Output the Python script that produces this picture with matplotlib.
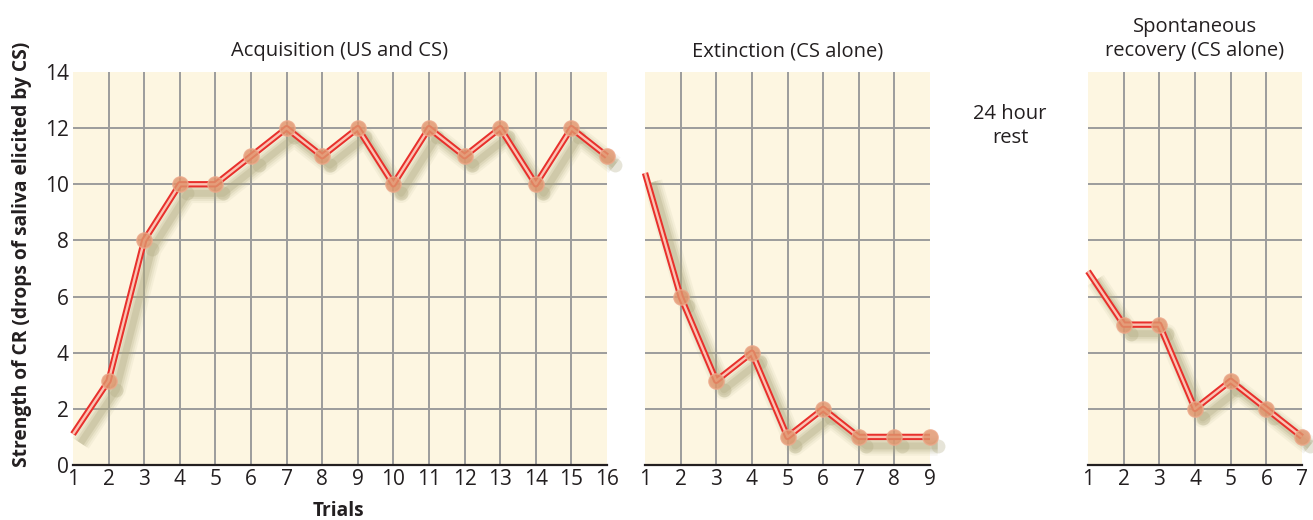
import matplotlib
matplotlib.use("Agg")
import matplotlib.pyplot as plt
from matplotlib.transforms import offset_copy

plt.rcParams["font.family"] = ["Open Sans", "DejaVu Sans"]

# CR strength per trial for each phase
acq_trials = list(range(1, 17))
acq_cr = [1.1, 3, 8, 10, 10, 11, 12, 11, 12, 10, 12, 11, 12, 10, 12, 11]
ext_trials = list(range(1, 10))
ext_cr = [10.4, 6, 3, 4, 1, 2, 1, 1, 1]
rec_trials = list(range(1, 8))
rec_cr = [6.9, 5, 5, 2, 3, 2, 1]

titles = ["Acquisition (US and CS)", "Extinction (CS alone)",
          "Spontaneous\nrecovery (CS alone)"]
y_ticks = [0, 2, 4, 6, 8, 10, 12, 14]

BG = "#fdf6e1"
GRID = "#9c9c9c"
RED = "#e8302c"
HILITE = "#fbc4b4"
SHADOW = "#aea880"
BALL = "#e0946c"
INK = "#231f20"

W, H = 1313, 520
fig = plt.figure(figsize=(W / 100, H / 100), dpi=100)

# axes boxes in pixels: left, right
boxes = [(73, 607), (645, 930), (1088, 1302)]
y0, y1 = 465, 72


def draw_phase(ax, xs, ys):
    ax.set_facecolor(BG)
    ax.set_xlim(xs[0], xs[-1])
    ax.set_ylim(0, 14)
    for x in xs[1:-1]:
        ax.axvline(x, color=GRID, lw=1.4, zorder=1)
    for y in y_ticks[1:-1]:
        ax.axhline(y, color=GRID, lw=1.4, zorder=1)

    # soft drop shadow under the trace
    tr = offset_copy(ax.transData, fig=fig, x=5.5, y=-6.5, units="points")
    for lw, a in [(14, 0.1), (11, 0.14), (8, 0.2), (5, 0.3)]:
        ax.plot(xs, ys, color=SHADOW, lw=lw, alpha=a, transform=tr,
                solid_capstyle="butt", solid_joinstyle="round", zorder=2,
                clip_on=False)
    ax.plot(xs[1:], ys[1:], "o", ms=10, color=SHADOW, alpha=0.3,
            mec="none", transform=tr, zorder=2, clip_on=False)

    ax.plot(xs, ys, color=RED, lw=4.6, solid_capstyle="butt",
            solid_joinstyle="round", zorder=3, clip_on=False)
    ax.plot(xs, ys, color=HILITE, lw=1.7, solid_capstyle="butt",
            solid_joinstyle="round", zorder=4, clip_on=False)
    ax.plot(xs[1:], ys[1:], "o", ms=11, mfc=BALL, mec="#eca88a", mew=1.0,
            alpha=0.82, zorder=5, clip_on=False)

    ax.set_xticks(xs)
    ax.set_xticklabels([str(x) for x in xs], fontsize=15, color=INK)
    ax.set_yticks(y_ticks)
    ax.tick_params(length=0, pad=3)
    for s in ["top", "right", "left"]:
        ax.spines[s].set_visible(False)
    ax.spines["bottom"].set_linewidth(1.6)
    ax.spines["bottom"].set_color(INK)
    ax.spines["bottom"].set_zorder(6)


axes = []
for (l, r), xs, ys in zip(boxes, [acq_trials, ext_trials, rec_trials],
                          [acq_cr, ext_cr, rec_cr]):
    ax = fig.add_axes([l / W, (H - y0) / H, (r - l) / W, (y0 - y1) / H])
    draw_phase(ax, xs, ys)
    axes.append(ax)

axes[0].set_yticklabels([str(v) for v in y_ticks], fontsize=15, color=INK)
axes[1].set_yticklabels([])
axes[2].set_yticklabels([])

for (l, r), t in zip(boxes, titles):
    fig.text((l + r) / 2 / W, 1 - 56 / H, t, ha="center", va="baseline",
             fontsize=14.5, color=INK, linespacing=1.25)

fig.text(1010 / W, 1 - 126 / H, "24 hour\nrest", ha="center", va="center",
         fontsize=14.5, color=INK, linespacing=1.25)

fig.text(22 / W, 1 - 254 / H, "Strength of CR (drops of saliva elicited by CS)",
         rotation=90, ha="center", va="center", fontsize=13.8, fontweight="bold",
         color=INK)
fig.text(338 / W, 1 - 511 / H, "Trials", ha="center", va="center",
         fontsize=13.8, fontweight="bold", color=INK)

fig.savefig("out.png", dpi=100)
